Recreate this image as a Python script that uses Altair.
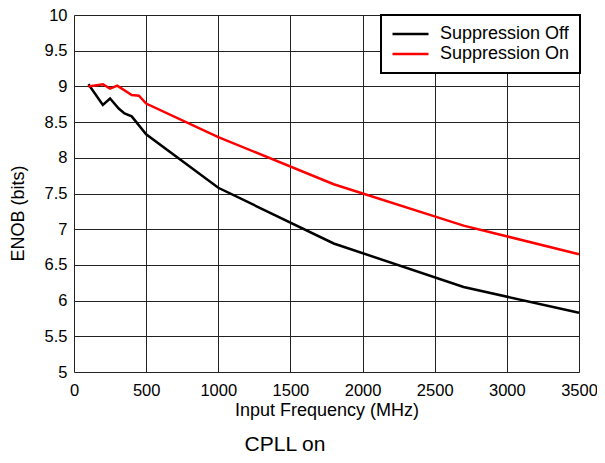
import altair as alt
import pandas as pd

freq_off = [100, 200, 250, 310, 350, 400, 500, 1000, 1800, 2700, 3500]
enob_off = [9.03, 8.74, 8.83, 8.69, 8.62, 8.58, 8.33, 7.58, 6.80, 6.19, 5.83]
freq_on = [100, 200, 250, 300, 400, 450, 500, 1000, 1800, 2700, 3500]
enob_on = [9.00, 9.03, 8.97, 9.01, 8.88, 8.87, 8.76, 8.29, 7.63, 7.05, 6.65]
series = ["Suppression Off", "Suppression On"]
colors = ["#000000", "#ff0000"]
x_ticks = [0, 500, 1000, 1500, 2000, 2500, 3000, 3500]
y_ticks = [5, 5.5, 6, 6.5, 7, 7.5, 8, 8.5, 9, 9.5, 10]
caption = "CPLL on"

rows = []
for f, e in zip(freq_off, enob_off):
    rows.append({"freq": f, "enob": e, "series": series[0], "order": 0})
for f, e in zip(freq_on, enob_on):
    rows.append({"freq": f, "enob": e, "series": series[1], "order": 1})
df = pd.DataFrame(rows)

FONT = "Liberation Sans"
W, H = 505, 357

lines = alt.Chart(df).mark_line(strokeWidth=2.5).encode(
    x=alt.X("freq:Q", scale=alt.Scale(domain=[0, 3500], nice=False),
            axis=alt.Axis(values=x_ticks, format="d", title="Input Frequency (MHz)", ticks=False,
                          labelPadding=10, labelFontSize=16.5, titleFontSize=18,
                          labelOverlap=False, labelFlush=False, titleY=38,
                          titleBaseline="middle", titleFontWeight="normal",
                          domain=False, gridColor="#222222", gridWidth=1, gridOpacity=1)),
    y=alt.Y("enob:Q", scale=alt.Scale(domain=[5, 10], nice=False),
            axis=alt.Axis(values=y_ticks, format="~g", title="ENOB (bits)", ticks=False,
                          labelPadding=7, labelFontSize=16.5, titleFontSize=18,
                          labelOverlap=False, labelFlush=False, titleX=-56, titleY=198,
                          titleBaseline="middle", titleAlign="center", titleAngle=-90,
                          titleFontWeight="normal",
                          domain=False, gridColor="#222222", gridWidth=1, gridOpacity=1)),
    color=alt.Color("series:N", scale=alt.Scale(domain=series, range=colors),
                    legend=alt.Legend(title=None, orient="none", legendX=307, legendY=0,
                                      symbolType="stroke", symbolSize=1296,
                                      symbolStrokeWidth=2.5, clipHeight=18, rowPadding=2,
                                      labelFontSize=18, labelOffset=10, padding=10,
                                      strokeColor="black", fillColor="white")),
    order="order:Q",
)

cap = alt.Chart(pd.DataFrame({"t": [caption]})).mark_text(
    fontSize=21, font=FONT, align="center", baseline="middle"
).encode(text="t:N", x=alt.value(211), y=alt.value(430))

chart = alt.layer(lines, cap).properties(
    width=W, height=H,
    autosize="none",
    padding={"left": 66, "top": 7, "right": 18, "bottom": 83},
).configure_view(
    stroke="black", strokeWidth=2.5
).configure(
    font=FONT
).configure_axis(
    labelFont=FONT, titleFont=FONT, labelColor="black", titleColor="black"
).configure_legend(
    labelFont=FONT, labelColor="black", strokeWidth=2
)

chart.save("out.html", embed_options={"renderer": "svg", "actions": False})
